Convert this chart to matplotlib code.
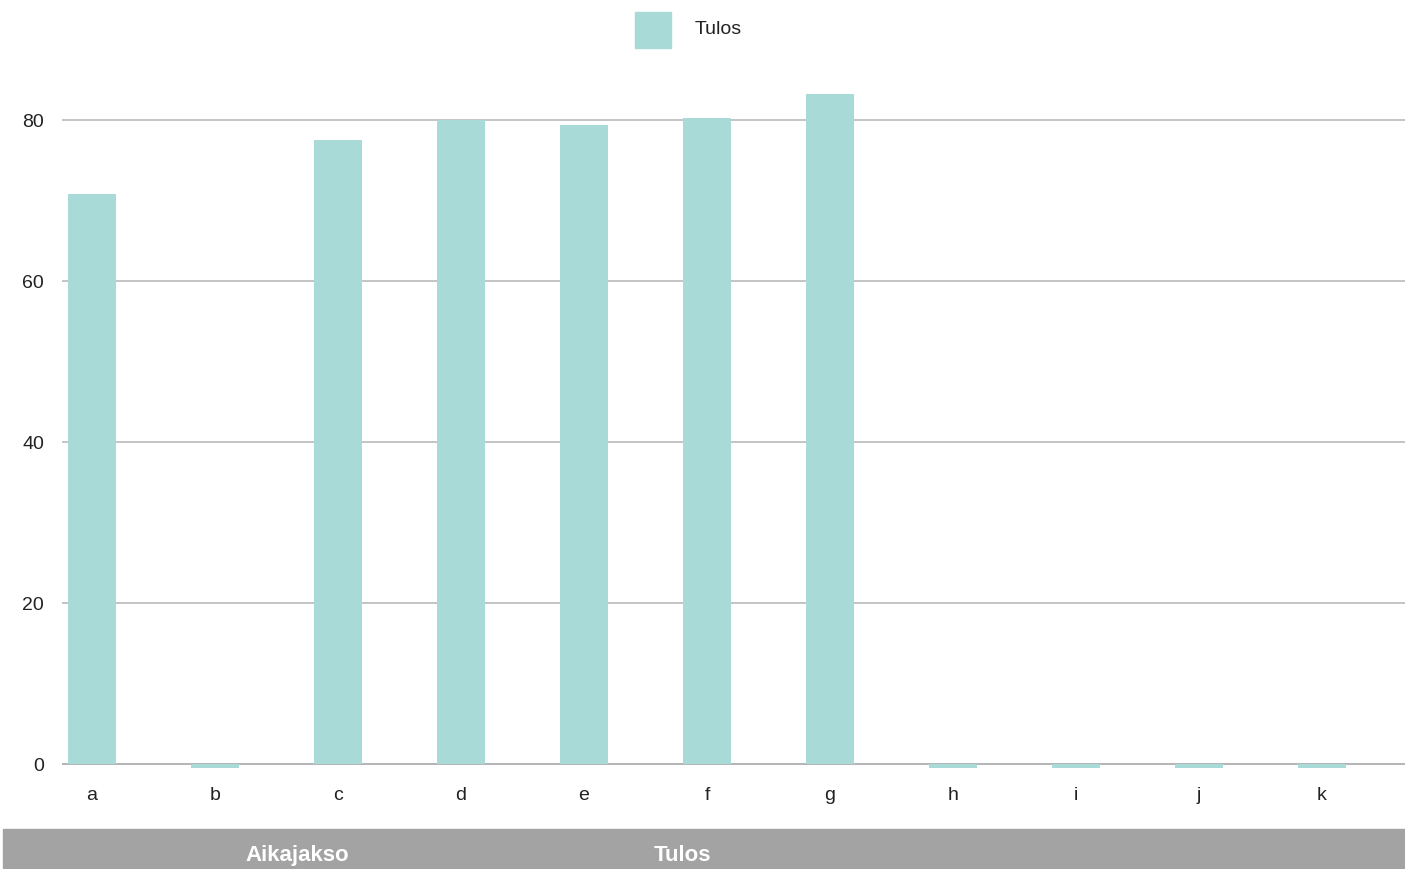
import matplotlib
matplotlib.use("Agg")
import matplotlib.pyplot as plt
from matplotlib.patches import Rectangle

categories = ["a", "b", "c", "d", "e", "f", "g", "h", "i", "j", "k"]
values = [70.7, -0.5, 77.5, 79.9, 79.3, 80.2, 83.2, -0.5, -0.5, -0.5, -0.5]
yticks = [0, 20, 40, 60, 80]
series_name = "Tulos"
table_headers = ["Aikajakso", "Tulos"]

bar_color = "#a8dad8"
W, H = 1405, 870
plt.rcParams["font.family"] = ["Liberation Sans", "DejaVu Sans"]

fig = plt.figure(figsize=(W / 100, H / 100), dpi=100)
fig.patch.set_facecolor("white")

# axes placement in pixels
left_px, right_px = 62, 1405
top_px, bot_px = 60, 770
ax = fig.add_axes([left_px / W, 1 - bot_px / H, (right_px - left_px) / W, (bot_px - top_px) / H])

ppu = (764.5 - 120.5) / 80.0
ymin = -(bot_px - 764.5) / ppu
ymax = (764.5 - top_px) / ppu
ax.set_ylim(ymin, ymax)
step = 123.0
x0 = 92.0
ax.set_xlim((left_px - x0) / step, (right_px - x0) / step)

xs = list(range(len(categories)))
ax.bar(xs, values, width=0.385, color=bar_color, zorder=3, clip_on=False)

for y in yticks:
    ax.axhline(y, color="#b4b4b4" if y else "#a0a0a0", linewidth=1.1, zorder=1)

ax.set_yticks(yticks)
ax.set_yticklabels([str(v) for v in yticks], fontsize=14, color="#222222")
ax.set_xticks(xs)
ax.set_xticklabels(categories, fontsize=14, color="#222222")
ax.tick_params(axis="y", length=0, pad=13)
ax.tick_params(axis="x", length=0, pad=12)
for s in ax.spines.values():
    s.set_visible(False)
ax.set_facecolor("none")

# legend
fig.patches.append(Rectangle((635 / W, 1 - 49 / H), 36 / W, 36 / H,
                             transform=fig.transFigure, color=bar_color, figure=fig))
fig.text(695 / W, 1 - 30 / H, series_name, fontsize=14, va="center", ha="left", color="#222222")

# bottom header band
fig.patches.append(Rectangle((3 / W, 0), (W - 3) / W, 40 / H,
                             transform=fig.transFigure, color="#a3a3a3", figure=fig))
fig.text(297 / W, 1 - 855.5 / H, table_headers[0], fontsize=16, fontweight="bold",
         color="white", ha="center", va="center")
fig.text(683 / W, 1 - 855.5 / H, table_headers[1], fontsize=16, fontweight="bold",
         color="white", ha="center", va="center")

fig.savefig("out.png", dpi=100)
